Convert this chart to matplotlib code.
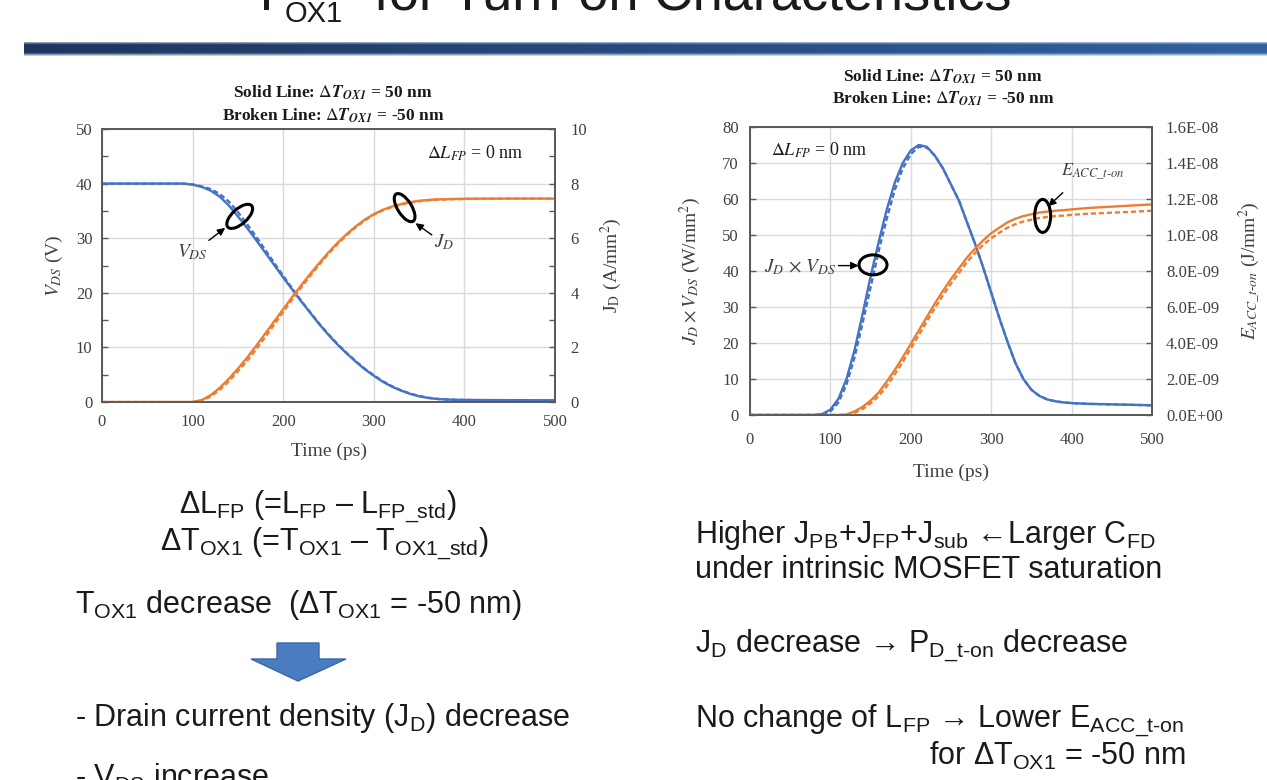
import numpy as np
import matplotlib
matplotlib.use("Agg")
import matplotlib.pyplot as plt
from matplotlib.patches import Ellipse, Polygon
from matplotlib.transforms import ScaledTranslation
from matplotlib.ticker import FuncFormatter

plt.rcParams["font.family"] = ["Liberation Serif", "DejaVu Serif"]
plt.rcParams["mathtext.fontset"] = "custom"
plt.rcParams["mathtext.rm"] = "Liberation Sans"
plt.rcParams["mathtext.it"] = "Liberation Sans:italic"
plt.rcParams["mathtext.bf"] = "Liberation Sans:bold"

# ---------------- data ----------------
time_ps = [0, 20, 40, 60, 80, 90, 100, 110, 120, 130, 140, 150, 160, 170, 180, 190,
           200, 210, 220, 230, 240, 250, 260, 270, 280, 290, 300, 310, 320, 330, 340,
           350, 360, 370, 380, 390, 400, 420, 440, 460, 480, 500]

# left chart: V_DS (V), solid = dTox1 +50 nm, broken = dTox1 -50 nm
vds_solid = [40, 40, 40, 40, 40, 40, 39.8, 39.4, 38.7, 37.6, 36.0, 34.0, 31.9, 29.7, 27.4, 25.1,
             22.8, 20.6, 18.4, 16.3, 14.2, 12.3, 10.5, 8.9, 7.4, 6.0, 4.8, 3.7, 2.8, 2.1, 1.5,
             1.05, 0.75, 0.55, 0.45, 0.4, 0.38, 0.35, 0.34, 0.33, 0.32, 0.32]
vds_broken = [40, 40, 40, 40, 40, 40, 39.85, 39.5, 39.0, 38.1, 36.7, 34.8, 32.6, 30.3, 27.9, 25.5,
              23.1, 20.8, 18.5, 16.4, 14.3, 12.4, 10.6, 9.0, 7.5, 6.1, 4.9, 3.8, 2.9, 2.15, 1.55,
              1.1, 0.78, 0.57, 0.46, 0.41, 0.38, 0.35, 0.34, 0.33, 0.32, 0.32]
# left chart: J_D (A/mm^2)
jd_solid = [0, 0, 0, 0, 0, 0, 0.0, 0.07, 0.25, 0.52, 0.85, 1.22, 1.62, 2.05, 2.5, 2.95,
            3.4, 3.85, 4.28, 4.7, 5.1, 5.48, 5.83, 6.15, 6.43, 6.68, 6.88, 7.04, 7.16, 7.25, 7.32,
            7.37, 7.40, 7.42, 7.43, 7.44, 7.44, 7.45, 7.45, 7.45, 7.45, 7.45]
jd_broken = [0, 0, 0, 0, 0, 0, 0.0, 0.05, 0.2, 0.45, 0.76, 1.12, 1.5, 1.92, 2.37, 2.83,
             3.3, 3.76, 4.2, 4.63, 5.04, 5.43, 5.79, 6.11, 6.4, 6.65, 6.86, 7.02, 7.14, 7.23, 7.3,
             7.35, 7.39, 7.41, 7.42, 7.43, 7.44, 7.44, 7.45, 7.45, 7.45, 7.45]
# right chart: J_D x V_DS (W/mm^2)
pwr_solid = [0, 0, 0, 0, 0, 0.3, 1.5, 4.5, 10, 18, 28, 38.5, 48, 57, 64.5, 70,
             73.5, 75, 74.5, 72, 68.5, 64, 59.5, 53.5, 47.5, 41, 34, 27, 20.5, 14.5, 10,
             7, 5.3, 4.3, 3.8, 3.5, 3.3, 3.1, 3.0, 2.9, 2.8, 2.7]
pwr_broken = [0, 0, 0, 0, 0, 0.2, 1.0, 3.5, 8.5, 16, 25.5, 35.5, 45.5, 54.5, 62.5, 68.5,
              72.5, 74.5, 74.3, 72, 68.5, 64, 59.5, 53.5, 47.5, 41, 34, 27, 20.5, 14.5, 10,
              7, 5.3, 4.3, 3.8, 3.5, 3.3, 3.1, 3.0, 2.9, 2.8, 2.7]
# right chart: E_ACC_t-on (nJ/mm^2, plotted as J/mm^2)
eacc_solid_nj = [0, 0, 0, 0, 0, 0, 0, 0, 0.03, 0.2, 0.45, 0.8, 1.25, 1.85, 2.5, 3.2,
                 3.95, 4.7, 5.45, 6.2, 6.9, 7.55, 8.15, 8.75, 9.25, 9.7, 10.1, 10.4, 10.7, 10.9, 11.05,
                 11.15, 11.25, 11.3, 11.35, 11.38, 11.42, 11.5, 11.55, 11.6, 11.65, 11.7]
eacc_broken_nj = [0, 0, 0, 0, 0, 0, 0, 0, 0.02, 0.12, 0.33, 0.65, 1.05, 1.6, 2.25, 2.95,
                  3.7, 4.45, 5.2, 5.95, 6.65, 7.3, 7.9, 8.5, 9.0, 9.45, 9.82, 10.12, 10.4, 10.6, 10.75,
                  10.85, 10.95, 11.0, 11.05, 11.08, 11.12, 11.18, 11.22, 11.26, 11.3, 11.35]

x_ticks = [0, 100, 200, 300, 400, 500]
vds_ticks = [0, 10, 20, 30, 40, 50]
jd_ticks = [0, 2, 4, 6, 8, 10]
pwr_ticks = [0, 10, 20, 30, 40, 50, 60, 70, 80]
eacc_ticks = [0, 2e-9, 4e-9, 6e-9, 8e-9, 1.0e-8, 1.2e-8, 1.4e-8, 1.6e-8]

for s in (vds_solid, vds_broken, jd_solid, jd_broken, pwr_solid, pwr_broken,
          eacc_solid_nj, eacc_broken_nj):
    assert len(s) == len(time_ps)

# ---------------- figure ----------------
W, H = 1267, 780
fig = plt.figure(figsize=(W / 100, H / 100), dpi=100)
fig.patch.set_facecolor("white")


def fx(x):
    return x / W


def fy(y):
    return 1 - y / H


BLUE = "#4472C4"
ORANGE = "#ED7D31"
GRID = "#D9D9D9"
SPINE = "#5A5A5A"
TICK = "#404040"
DARK = "#1A1A1A"
DASH = (0, (2.2, 1.2))
LW = 1.7
SERIF = dict(family="Liberation Serif", math_fontfamily="stix")
SANS = dict(family="Liberation Sans", math_fontfamily="custom")

# ---------------- title and header bar ----------------
fig.text(fx(250), fy(10), "T", fontsize=39, va="baseline", ha="left", color=DARK, **SANS)
fig.text(fx(285), fy(21.5), "OX1", fontsize=21, va="baseline", ha="left", color=DARK, **SANS)
fig.text(fx(374), fy(10), "for Turn-on Characteristics", fontsize=39, va="baseline",
         ha="left", color=DARK, **SANS)

bar = fig.add_axes([fx(24), fy(56), (W - 24) / W, 14 / H])
bar.axis("off")
ncol = 300
left_c = np.array([0.11, 0.21, 0.37])
right_c = np.array([0.19, 0.38, 0.63])
frac = np.linspace(0, 1, ncol)[None, :, None]
core = left_c[None, None, :] * (1 - frac) + right_c[None, None, :] * frac
blend = np.array([0.75, 0.5, 0.2, 0, 0, 0, 0, 0, 0, 0, 0, 0.15, 0.45, 0.75])[:, None, None]
img = core * (1 - blend) + 1.0 * blend
bar.imshow(img, aspect="auto", extent=[0, 1, 0, 1], interpolation="bilinear")
bar.set_xlim(0, 1)
bar.set_ylim(0, 1)


# ---------------- helpers ----------------
def style(ax, ax2, ypadL, ypadR, xpad):
    for a in (ax, ax2):
        for sp in a.spines.values():
            sp.set_color(SPINE)
            sp.set_linewidth(1.3)
    ax.grid(True, which="major", color=GRID, lw=1.0)
    ax.set_axisbelow(True)
    ax.tick_params(axis="both", which="both", direction="in", color=SPINE,
                   labelcolor=TICK, labelsize=12, length=4, width=1)
    ax.tick_params(axis="y", pad=ypadL)
    ax.tick_params(axis="x", pad=xpad, length=0)
    ax2.tick_params(axis="y", which="both", direction="in", color=SPINE,
                    labelcolor=TICK, labelsize=12, length=4, width=1, pad=ypadR)


def ring(ax, x, y, w_px, h_px, angle):
    tr = fig.dpi_scale_trans + ScaledTranslation(x, y, ax.transData)
    e = Ellipse((0, 0), w_px / 100, h_px / 100, angle=angle, transform=tr,
                fill=False, ec="black", lw=2.2, zorder=10, clip_on=False)
    ax.add_artist(e)


def pointer(ax, tail, head):
    ax.annotate("", xy=head, xytext=tail,
                arrowprops=dict(arrowstyle="-|>,head_length=0.45,head_width=0.22",
                                color="black", lw=1.0, shrinkA=0, shrinkB=0), zorder=11)


# ---------------- left chart ----------------
axL = fig.add_axes([fx(102), fy(402), 453 / W, 273 / H])
axL2 = axL.twinx()
axL.plot(time_ps, vds_broken, color=BLUE, lw=LW, ls=DASH)
axL.plot(time_ps, vds_solid, color=BLUE, lw=LW)
axL2.plot(time_ps, jd_broken, color=ORANGE, lw=LW, ls=DASH)
axL2.plot(time_ps, jd_solid, color=ORANGE, lw=LW)
axL.set_xlim(0, 500)
axL.set_ylim(0, 50)
axL2.set_ylim(0, 10)
axL.set_xticks(x_ticks)
axL.set_yticks(vds_ticks)
axL.set_yticks([5, 15, 25, 35, 45], minor=True)
axL2.set_yticks(jd_ticks)
axL2.set_yticks([1, 3, 5, 7, 9], minor=True)
style(axL, axL2, 7, 11, 9)
axL.set_xlabel("Time (ps)", fontsize=14, color=TICK, **SERIF)
axL.xaxis.set_label_coords(0.5, -0.15)
axL.set_ylabel(r"$V_{DS}$ (V)", fontsize=14, color=TICK, **SERIF)
axL.yaxis.set_label_coords(-0.082, 0.5)
axL2.set_ylabel(r"J$_{\mathrm{D}}$ (A/mm$^{2}$)", fontsize=14, color=TICK, rotation=90, **SERIF)
axL2.yaxis.set_label_coords(1.097, 0.5)

ring(axL, 152, 34.0, 32, 15, 42)
pointer(axL, (118, 29.6), (136, 31.9))
axL.text(117, 29.3, r"$V_{DS}$", fontsize=14, ha="right", va="top", color=TICK, **SERIF)
ring(axL2, 334, 7.12, 32, 14, -58)
pointer(axL2, (364, 6.12), (346, 6.55))
axL2.text(366, 6.2, r"$J_{D}$", fontsize=14, ha="left", va="top", color=TICK, **SERIF)
axL2.text(412, 9.1, r"$\Delta L_{FP}$ = 0 nm", fontsize=13, ha="center", va="center",
          color=DARK, **SERIF)

fig.text(fx(333), fy(98), r"Solid Line: $\Delta \mathbfit{T}_{\mathbfit{OX1}}$ = 50 nm",
         fontsize=12.5, fontweight="bold", ha="center", va="baseline", color=DARK, **SERIF)
fig.text(fx(333), fy(121), r"Broken Line: $\Delta \mathbfit{T}_{\mathbfit{OX1}}$ = -50 nm",
         fontsize=12.5, fontweight="bold", ha="center", va="baseline", color=DARK, **SERIF)

# ---------------- right chart ----------------
axR = fig.add_axes([fx(750), fy(415), 402 / W, 288 / H])
axR2 = axR.twinx()
axR.plot(time_ps, pwr_broken, color=BLUE, lw=LW, ls=DASH)
axR.plot(time_ps, pwr_solid, color=BLUE, lw=LW)
axR2.plot(time_ps, np.array(eacc_broken_nj) * 1e-9, color=ORANGE, lw=LW, ls=DASH)
axR2.plot(time_ps, np.array(eacc_solid_nj) * 1e-9, color=ORANGE, lw=LW)
axR.set_xlim(0, 500)
axR.set_ylim(0, 80)
axR2.set_ylim(0, 1.6e-8)
axR.set_xticks(x_ticks)
axR.set_yticks(pwr_ticks)
axR2.set_yticks(eacc_ticks)
axR2.yaxis.set_major_formatter(FuncFormatter(lambda v, p: f"{v:.1E}"))
style(axR, axR2, 8, 10, 12)
axR.set_xlabel("Time (ps)", fontsize=14, color=TICK, **SERIF)
axR.xaxis.set_label_coords(0.5, -0.17)
axR.set_ylabel(r"$J_{D} \times V_{DS}$ (W/mm$^{2}$)", fontsize=14, color=TICK, **SERIF)
axR.yaxis.set_label_coords(-0.117, 0.5)
axR2.set_ylabel(r"$E_{ACC\_t\text{-}on}$ (J/mm$^{2}$)", fontsize=14, color=TICK,
                rotation=90, **SERIF)
axR2.yaxis.set_label_coords(1.212, 0.5)

ring(axR, 153, 41.7, 28, 20, 0)
pointer(axR, (110, 41.5), (135, 41.5))
axR.text(108, 41.0, r"$J_{D}$ $\times$ $V_{DS}$", fontsize=14, ha="right", va="center",
         color=TICK, **SERIF)
ring(axR2, 364, 1.106e-8, 16, 33, 0)
pointer(axR2, (389, 1.235e-8), (371, 1.16e-8))
axR2.text(426, 1.35e-8, r"$E_{ACC\_t\text{-}on}$", fontsize=13, ha="center", va="center",
          color=TICK, **SERIF)
axR.text(86, 73.6, r"$\Delta L_{FP}$ = 0 nm", fontsize=13, ha="center", va="center",
         color=DARK, **SERIF)

fig.text(fx(943), fy(81.5), r"Solid Line: $\Delta \mathbfit{T}_{\mathbfit{OX1}}$ = 50 nm",
         fontsize=12.5, fontweight="bold", ha="center", va="baseline", color=DARK, **SERIF)
fig.text(fx(943), fy(104), r"Broken Line: $\Delta \mathbfit{T}_{\mathbfit{OX1}}$ = -50 nm",
         fontsize=12.5, fontweight="bold", ha="center", va="baseline", color=DARK, **SERIF)

# ---------------- block arrow ----------------
arrow_pts = [(277, 643), (319, 643), (319, 659), (346, 659), (298, 681), (251, 659), (277, 659)]
fig.add_artist(Polygon([(fx(x), fy(y)) for x, y in arrow_pts], closed=True,
                       transform=fig.transFigure, fc="#4A7CC2", ec="#3A68A6", lw=1.0))

# ---------------- slide text ----------------
FS = 22
fig.text(fx(318), fy(514), r"ΔL$_{\mathrm{FP}}$ (=L$_{\mathrm{FP}}$ – L$_{\mathrm{FP\_std}}$)",
         fontsize=FS, ha="center", va="baseline", color=DARK, **SANS)
fig.text(fx(324), fy(551), r"ΔT$_{\mathrm{OX1}}$ (=T$_{\mathrm{OX1}}$ – T$_{\mathrm{OX1\_std}}$)",
         fontsize=FS, ha="center", va="baseline", color=DARK, **SANS)
fig.text(fx(75), fy(613), r"T$_{\mathrm{OX1}}$ decrease  (ΔT$_{\mathrm{OX1}}$ = -50 nm)",
         fontsize=FS, ha="left", va="baseline", color=DARK, **SANS)
fig.text(fx(75), fy(726), r"- Drain current density (J$_{\mathrm{D}}$) decrease",
         fontsize=FS, ha="left", va="baseline", color=DARK, **SANS)
fig.text(fx(75), fy(787), r"- V$_{\mathrm{DS}}$ increase",
         fontsize=FS, ha="left", va="baseline", color=DARK, **SANS)

fig.text(fx(695), fy(543),
         r"Higher J$_{\mathrm{PB}}$+J$_{\mathrm{FP}}$+J$_{\mathrm{sub}}$ ←Larger C$_{\mathrm{FD}}$",
         fontsize=FS, ha="left", va="baseline", color=DARK, **SANS)
fig.text(fx(695), fy(578), "under intrinsic MOSFET saturation",
         fontsize=FS, ha="left", va="baseline", color=DARK, **SANS)
fig.text(fx(695), fy(653),
         r"J$_{\mathrm{D}}$ decrease → P$_{\mathrm{D\_t}\text{-}\mathrm{on}}$ decrease",
         fontsize=FS, ha="left", va="baseline", color=DARK, **SANS)
fig.text(fx(695), fy(728),
         r"No change of L$_{\mathrm{FP}}$ → Lower E$_{\mathrm{ACC\_t}\text{-}\mathrm{on}}$",
         fontsize=FS, ha="left", va="baseline", color=DARK, **SANS)
fig.text(fx(929), fy(765), r"for ΔT$_{\mathrm{OX1}}$ = -50 nm",
         fontsize=FS, ha="left", va="baseline", color=DARK, **SANS)

fig.savefig("out.png", dpi=100, facecolor="white")
